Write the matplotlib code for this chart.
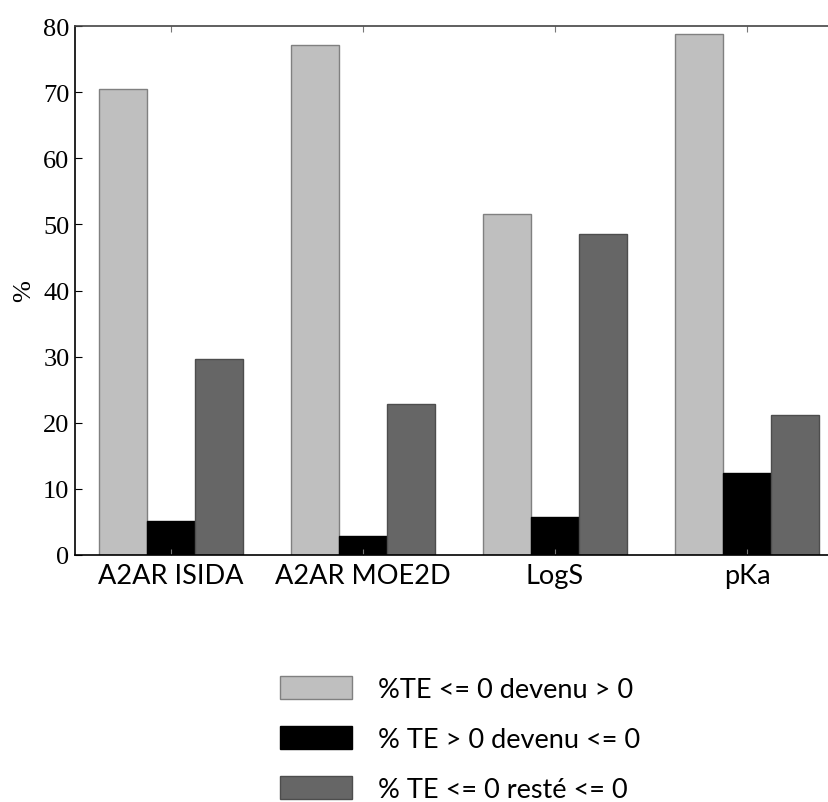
import numpy as np
import matplotlib
matplotlib.use("Agg")
import matplotlib.pyplot as plt

categories = ["A2AR ISIDA", "A2AR MOE2D", "LogS", "pKa"]
series_labels = ["%TE <= 0 devenu > 0", "% TE > 0 devenu <= 0", "% TE <= 0 resté <= 0"]
became_pos = [70.4, 77.1, 51.5, 78.8]
became_neg = [5.2, 2.8, 5.8, 12.4]
stayed_neg = [29.6, 22.9, 48.5, 21.2]

colors = ["#bfbfbf", "#000000", "#666666"]
edges = ["#808080", "#000000", "#4d4d4d"]

SANS = "Lato"
SERIF = "Liberation Serif"

fig = plt.figure(figsize=(8.29, 8.03), dpi=100)
# axes run past the right edge of the picture, as in the reference
ax = fig.add_axes([75 / 829, 1 - 556 / 803, 768 / 829, 529 / 803])

x = np.arange(len(categories))
width = 0.25
for i, vals in enumerate([became_pos, became_neg, stayed_neg]):
  ax.bar(x + i * width, vals, width, align="edge", color=colors[i],
         edgecolor=edges[i], linewidth=1, label=series_labels[i])

ax.set_xlim(-0.125, 3.875)
ax.set_ylim(0, 80)
ax.set_xticks(x + 1.5 * width)
ax.set_xticklabels(categories, fontsize=19.5, family=SANS)
ax.set_yticks(np.arange(0, 81, 10))
for lab in ax.get_yticklabels():
  lab.set_fontsize(19)
  lab.set_family(SERIF)
ax.tick_params(axis="x", direction="in", top=True, bottom=True, length=4, pad=6, color="#777777")
ax.tick_params(axis="y", direction="in", left=True, right=False, length=5, pad=4)
ax.set_ylabel("%", fontsize=19, family=SERIF, labelpad=6)
for s in ax.spines.values():
  s.set_linewidth(1.2)
ax.spines["top"].set_color("#444444")

handles, labels = ax.get_legend_handles_labels()
fig.legend(handles, labels, loc="upper left", bbox_to_anchor=(280 / 829, 1 - 677 / 803),
           frameon=False, prop={"family": SANS, "size": 19.5}, borderpad=0, borderaxespad=0,
           handlelength=2.67, handleheight=0.93, handletextpad=0.96, labelspacing=0.9)

fig.savefig("out.png", dpi=100)
